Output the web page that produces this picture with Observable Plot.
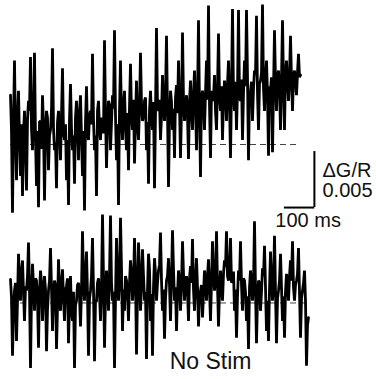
<!DOCTYPE html>
<html>
<head>
<meta charset="utf-8">
<script src="https://cdn.jsdelivr.net/npm/d3@7"></script>
<script src="https://cdn.jsdelivr.net/npm/@observablehq/plot@0.6"></script>
<style>
  html, body { margin: 0; padding: 0; background: #fff; }
  #chart { width: 376px; height: 379px; }
</style>
</head>
<body>
<div id="chart"></div>
<script>
// Sampling interval of the recordings (ms)
const sampleIntervalMs = 10 / 3;

// ΔG/R relative to baseline, stimulated trace (top)
const stimTrace = [
  0.0044, 0.0012, -0.0061, 0.0020, 0.0075, 0.0008, -0.0032, 0.0025, 0.0048, 0.0005,
  -0.0028, 0.0018, -0.0046, 0.0010, 0.0030, -0.0002, -0.0041, 0.0022, 0.0039, 0.0030,
  0.0078, 0.0014, -0.0005, 0.0028, 0.0082, 0.0006, -0.0037, 0.0012, -0.0056, 0.0020,
  0.0021, -0.0004, 0.0044, 0.0016, -0.0050, 0.0010, 0.0030, 0.0024, -0.0023, 0.0008,
  0.0013, 0.0030, 0.0086, 0.0015, -0.0005, 0.0002, -0.0039, 0.0020, 0.0030, 0.0012,
  -0.0014, 0.0026, 0.0068, 0.0010, 0.0004, 0.0018, -0.0032, 0.0004, -0.0054, 0.0022,
  0.0054, 0.0014, -0.0005, 0.0008, -0.0035, 0.0024, 0.0039, 0.0016, -0.0014, 0.0028,
  0.0044, 0.0006, -0.0028, 0.0012, -0.0059, 0.0020, 0.0052, 0.0010, 0.0004, 0.0026,
  0.0030, 0.0018, 0.0081, 0.0022, -0.0005, 0.0008, -0.0046, 0.0030, 0.0039, 0.0014,
  0.0004, 0.0024, 0.0021, 0.0010, 0.0093, 0.0028, -0.0021, 0.0016, 0.0039, 0.0035,
  -0.0005, 0.0020, 0.0044, 0.0032, 0.0102, 0.0025, -0.0014, 0.0018, -0.0054, 0.0030,
  0.0075, 0.0022, 0.0004, 0.0036, 0.0048, 0.0015, -0.0005, 0.0028, -0.0023, 0.0034,
  0.0072, 0.0026, 0.0013, 0.0040, -0.0017, 0.0022, 0.0057, 0.0018, 0.0004, 0.0032,
  0.0082, 0.0036, 0.0021, 0.0025, 0.0039, 0.0042, -0.0005, 0.0020, -0.0035, 0.0030,
  0.0048, 0.0024, 0.0013, 0.0038, -0.0039, 0.0028, 0.0104, 0.0034, 0.0030, 0.0040,
  0.0004, 0.0026, 0.0062, 0.0036, 0.0021, 0.0044, 0.0097, 0.0030, -0.0038, 0.0022,
  0.0048, 0.0038, 0.0013, 0.0032, -0.0012, 0.0042, 0.0053, 0.0028, 0.0075, 0.0036,
  -0.0012, 0.0030, 0.0100, 0.0040, 0.0021, 0.0034, 0.0044, 0.0026, -0.0013, 0.0038,
  0.0057, 0.0030, 0.0013, 0.0044, 0.0066, 0.0036, -0.0005, 0.0040, 0.0111, 0.0032,
  -0.0029, 0.0042, 0.0048, 0.0038, 0.0013, 0.0046, 0.0075, 0.0040, 0.0124, 0.0036,
  -0.0012, 0.0048, 0.0039, 0.0042, 0.0062, 0.0030, 0.0013, 0.0050, 0.0099, 0.0044,
  0.0030, 0.0052, 0.0004, 0.0040, 0.0057, 0.0046, 0.0021, 0.0054, 0.0075, 0.0038,
  -0.0012, 0.0050, 0.0121, 0.0044, 0.0030, 0.0056, 0.0013, 0.0048, 0.0120, 0.0042,
  0.0039, 0.0058, 0.0004, 0.0046, 0.0075, 0.0052, 0.0120, 0.0060, -0.0014, 0.0044,
  0.0048, 0.0056, 0.0021, 0.0050, 0.0066, 0.0062, 0.0115, 0.0046, 0.0013, 0.0054,
  0.0057, 0.0064, 0.0125, 0.0050, 0.0030, 0.0058, 0.0075, 0.0044, -0.0010, 0.0052,
  0.0048, 0.0060, -0.0007, 0.0048, 0.0102, 0.0056, 0.0030, 0.0062, 0.0066, 0.0050,
  0.0013, 0.0058, 0.0111, 0.0054, 0.0013, 0.0064, 0.0075, 0.0056, 0.0039, 0.0060,
  0.0097, 0.0058, 0.0030, 0.0062, 0.0066, 0.0056, 0.0044, 0.0064, 0.0081, 0.0060,
  0.0062
];

// ΔG/R relative to baseline, no-stimulation trace (bottom)
const noStimTrace = [
  0.0021, 0.0005, -0.0047, -0.0010, 0.0011, 0.0018, -0.0034, 0.0002, 0.0044, 0.0020,
  0.0002, 0.0028, 0.0038, 0.0010, -0.0016, 0.0015, 0.0011, 0.0024, 0.0054, 0.0012,
  -0.0058, 0.0006, 0.0035, 0.0016, -0.0007, 0.0022, 0.0020, 0.0004, -0.0040, 0.0010,
  0.0029, 0.0018, -0.0016, 0.0008, 0.0024, 0.0012, -0.0043, -0.0006, 0.0011, 0.0020,
  0.0049, 0.0014, -0.0025, 0.0006, 0.0020, 0.0016, -0.0041, -0.0004, 0.0039, 0.0010,
  -0.0007, 0.0018, 0.0030, 0.0004, -0.0016, 0.0012, 0.0015, 0.0022, -0.0036, 0.0002,
  0.0024, -0.0008, -0.0016, 0.0010, -0.0058, -0.0002, 0.0002, 0.0016, 0.0018, 0.0006,
  -0.0021, 0.0012, 0.0064, 0.0020, 0.0002, 0.0026, 0.0046, 0.0008, -0.0047, 0.0004,
  0.0011, 0.0024, 0.0058, 0.0012, -0.0052, 0.0002, 0.0002, 0.0018, 0.0022, 0.0008,
  -0.0016, 0.0014, 0.0079, 0.0022, -0.0040, 0.0006, 0.0029, 0.0016, -0.0007, 0.0024,
  0.0078, 0.0018, 0.0002, 0.0010, -0.0058, 0.0004, 0.0058, 0.0026, 0.0002, 0.0020,
  0.0076, 0.0030, -0.0025, 0.0012, -0.0007, 0.0024, 0.0020, 0.0008, -0.0016, 0.0018,
  0.0038, 0.0026, 0.0002, 0.0014, 0.0058, 0.0022, -0.0046, 0.0006, 0.0054, 0.0028,
  -0.0007, 0.0016, 0.0048, 0.0024, 0.0002, 0.0010, -0.0050, 0.0012, 0.0044, 0.0030,
  -0.0016, 0.0008, -0.0047, 0.0014, 0.0040, 0.0026, 0.0002, 0.0018, 0.0029, 0.0034,
  0.0063, 0.0020, -0.0007, 0.0012, -0.0032, 0.0004, 0.0020, 0.0024, 0.0040, 0.0016,
  -0.0016, 0.0022, 0.0065, 0.0030, 0.0002, 0.0014, -0.0025, 0.0008, 0.0029, 0.0020,
  -0.0007, 0.0016, 0.0055, 0.0026, 0.0002, 0.0018, 0.0024, 0.0010, -0.0016, 0.0022,
  0.0033, 0.0018, 0.0057, 0.0012, -0.0007, 0.0020, 0.0040, 0.0014, -0.0021, 0.0006,
  0.0011, 0.0016, -0.0013, 0.0008, 0.0029, 0.0020, 0.0002, 0.0024, 0.0039, 0.0012,
  -0.0016, 0.0018, 0.0055, 0.0026, 0.0011, 0.0022, 0.0064, 0.0016, -0.0021, 0.0010,
  0.0029, 0.0014, 0.0002, 0.0026, 0.0038, 0.0032, 0.0064, 0.0024, 0.0020, 0.0030,
  0.0058, 0.0018, 0.0022, 0.0028, -0.0007, 0.0012, -0.0031, 0.0006, 0.0029, 0.0020,
  0.0055, 0.0016, -0.0007, 0.0022, 0.0020, 0.0010, -0.0016, 0.0006, -0.0041, 0.0014,
  0.0029, 0.0020, 0.0002, 0.0016, 0.0073, 0.0012, -0.0036, 0.0004, 0.0020, 0.0018,
  -0.0007, 0.0010, 0.0031, 0.0024, 0.0051, 0.0014, -0.0025, 0.0002, -0.0034, 0.0012,
  0.0046, 0.0022, 0.0002, 0.0018, 0.0060, 0.0010, -0.0036, 0.0004, 0.0011, 0.0020,
  0.0044, 0.0014, -0.0016, 0.0006, -0.0031, 0.0010, 0.0026, 0.0018, 0.0002, 0.0024,
  0.0038, 0.0020, 0.0055, 0.0014, 0.0002, 0.0016, 0.0020, 0.0026, 0.0049, 0.0010,
  -0.0031, 0.0004, 0.0011, 0.0018, 0.0029, 0.0002, -0.0056, -0.0020, -0.0013
];

const traceLabels = ["", "No Stim"];
const scaleBarTimeMs = 100;
const scaleBarAmp = 0.005;
const scaleBarLabels = ["ΔG/R\n0.005", "100 ms"];

// ---- layout (vertical separation between the two traces, in ΔG/R units) ----
const traceGap = 0.01415;
const toRows = (arr, offset) => arr.map((v, i) => ({ t: i * sampleIntervalMs, v: v - offset }));
const stimRows = toRows(stimTrace, 0);
const noStimRows = toRows(noStimTrace, traceGap);
const stimEnd = stimRows[stimRows.length - 1].t;
const noStimEnd = noStimRows[noStimRows.length - 1].t;

const barX = 1013;          // right end of the scale bar (ms)
const barTop = -0.00063;    // top of the vertical scale bar
const barBottom = barTop - scaleBarAmp;

const font = "Liberation Sans, Arial, sans-serif";

const chart = Plot.plot({
  width: 376,
  height: 379,
  margin: 0,
  style: { background: "#fff", fontFamily: font },
  x: { domain: [-10 / 0.3, 366 / 0.3], axis: null },
  y: { domain: [-235 / 11200, 144 / 11200], axis: null },
  marks: [
    // dashed baselines
    Plot.ruleY([0], { x1: 0, x2: stimEnd - 10, stroke: "#444", strokeWidth: 1, strokeDasharray: "6,4" }),
    Plot.ruleY([-traceGap], { x1: 0, x2: noStimEnd, stroke: "#444", strokeWidth: 1, strokeDasharray: "6,4" }),
    // traces
    Plot.line(stimRows, { x: "t", y: "v", stroke: "#000", strokeWidth: 2.8, strokeLinejoin: "miter", strokeMiterlimit: 1.5 }),
    Plot.line(noStimRows, { x: "t", y: "v", stroke: "#000", strokeWidth: 2.8, strokeLinejoin: "miter", strokeMiterlimit: 1.5 }),
    // scale bar
    Plot.ruleX([barX], { y1: barTop, y2: barBottom, stroke: "#000", strokeWidth: 2 }),
    Plot.ruleY([barBottom], { x1: barX - scaleBarTimeMs, x2: barX + 1, stroke: "#000", strokeWidth: 2 }),
    Plot.text([scaleBarLabels[0]], { x: 1040, y: -0.00326, text: d => d, textAnchor: "start", lineAnchor: "middle", lineHeight: 1.0, fontSize: 20, fill: "#111" }),
    Plot.text([scaleBarLabels[1]], { x: 992, y: -0.00683, text: d => d, textAnchor: "middle", lineAnchor: "middle", fontSize: 20, fill: "#111" }),
    // trace label
    Plot.text([traceLabels[1]], { x: 667, y: -0.01938, text: d => d, textAnchor: "middle", lineAnchor: "middle", fontSize: 23, fill: "#111" })
  ]
});
document.getElementById("chart").appendChild(chart);
</script>
</body>
</html>
